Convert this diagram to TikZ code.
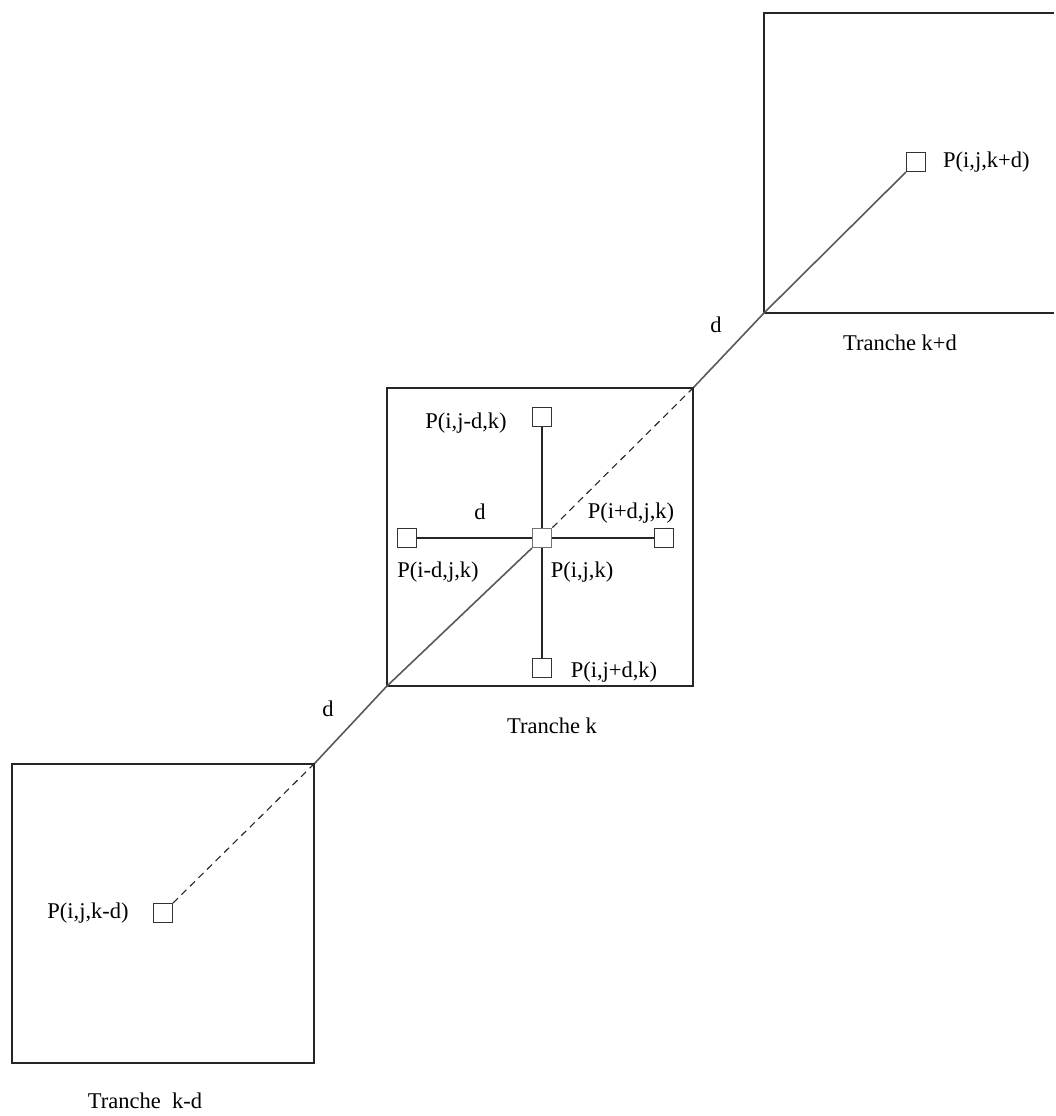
\documentclass[tikz,border=0pt]{standalone}
\usepackage{fontspec}
\setmainfont{Liberation Serif}
\begin{document}
\begin{tikzpicture}[x=1pt,y=-1pt,
  slice/.style={draw=black!85,line width=1.2pt,inner sep=0pt,minimum width=#1,minimum height=300pt},
  frame/.style={draw=black!85,line width=1.2pt},
  cell/.style={draw=black!80,line width=1.1pt,inner sep=0pt,minimum size=19pt,fill=white},
  axis/.style={draw=black!65,line width=1.6pt},
  link/.style={draw=black!85,line width=1.2pt},
  hidden/.style={draw=black!85,line width=1.1pt,dash pattern=on 7pt off 5pt},
  lbl/.style={inner sep=0pt,font=\fontsize{22.5}{27}\selectfont}]
\useasboundingbox (0,0) rectangle (1055,1116);

% slice k+d, running off the right edge
\coordinate (tkdNE) at (1054,13);
\coordinate (tkdNW) at (764,13);
\coordinate (tkdSW) at (764,313);
\coordinate (tkdSE) at (1054,313);
\draw[frame] (tkdNE) -- (tkdNW) -- (tkdSW) -- (tkdSE);

% slices k and k-d
\node[slice=306pt,minimum height=298pt] (tk) at (540,537) {};
\node[slice=302pt,minimum height=299pt] (tkm) at (163,913.5) {};

% cells
\node[cell] (pkd) at (916,162) {};
\node[cell,draw=black!55] (p) at (542,538) {};
\node[cell] (pu) at (542,417) {};
\node[cell] (pl) at (407,538) {};
\node[cell] (pr) at (664,538) {};
\node[cell] (pd) at (542,668) {};
\node[cell] (pkm) at (163,913) {};

% neighbours within slice k
\draw[link] (p.north) -- (pu.south);
\draw[link] (p.south) -- (pd.north);
\draw[link] (p.west) -- (pl.east);
\draw[link] (p.east) -- (pr.west);

% the line across the slices
\draw[axis] (pkd.south west) -- (tkdSW) -- (tk.north east);
\draw[hidden] (tk.north east) -- (p.north east);
\draw[axis] (p.south west) -- (tk.south west) -- (tkm.north east);
\draw[hidden] (tkm.north east) -- (pkm.north east);

% labels
\node[lbl,anchor=west] (lkd) at (943,162) {P(i,j,k+d)};
\node[lbl] (tlkd) at (900,343) {Tranche k+d};
\node[lbl] (d1) at (716,325) {d};
\node[lbl] (lu) at (466,423) {P(i,j-d,k)};
\node[lbl] (d2) at (480,512) {d};
\node[lbl] (lr) at (631,513) {P(i+d,j,k)};
\node[lbl] (ll) at (438,572) {P(i-d,j,k)};
\node[lbl] (lp) at (582,572) {P(i,j,k)};
\node[lbl] (ld) at (614,672) {P(i,j+d,k)};
\node[lbl] (tlk) at (552,726) {Tranche k};
\node[lbl] (d3) at (328,709) {d};
\node[lbl] (lkm) at (88,913) {P(i,j,k-d)};
\node[lbl] (tlkm) at (145,1101) {Tranche\ \ k-d};
\end{tikzpicture}
\end{document}
